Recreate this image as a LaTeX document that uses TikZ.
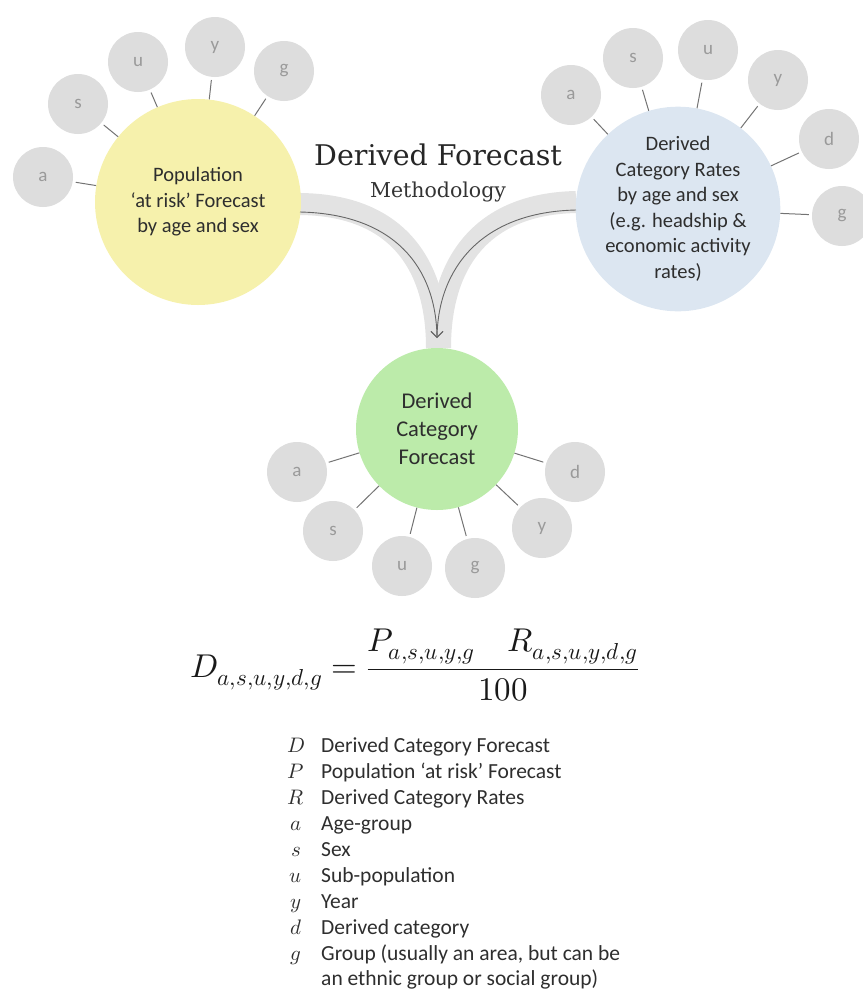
\documentclass[tikz,border=0pt]{standalone}
\usepackage{fontspec}
\setmainfont{Carlito}
\newfontfamily\titlefont{DejaVu Serif}
\usepackage{unicode-math}
\setmathfont{Latin Modern Math}
\usetikzlibrary{arrows.meta}
\definecolor{yel}{HTML}{F6F1AC}
\definecolor{blu}{HTML}{DCE6F1}
\definecolor{grn}{HTML}{BCEBAA}
\definecolor{sat}{HTML}{DDDDDD}
\definecolor{sattext}{HTML}{9A9A9A}
\definecolor{band}{HTML}{E3E3E3}
\definecolor{txt}{HTML}{2E2E2E}
\tikzset{
  hub/.style={circle,draw=none,align=center,text=txt,inner sep=0pt,font=\fontsize{20.5}{25.5}\selectfont},
  satnode/.style={circle,fill=sat,draw=none,minimum size=60pt,inner sep=0pt,text=sattext,font=\fontsize{19}{20}\selectfont},
  link/.style={draw=gray!90!black,line width=1pt,shorten <=3pt},
  legsym/.style={anchor=base,font=\fontsize{21}{22}\selectfont,text=txt},
  legtext/.style={anchor=base west,inner xsep=0pt,font=\fontsize{21.5}{22}\selectfont,text=txt},
}
\begin{document}
\begin{tikzpicture}[x=1pt,y=-1pt]
\useasboundingbox (0,0) rectangle (863,989);
% bands and arrows
\coordinate (Ls) at (300,212);
\coordinate (Rs) at (576,210);
\coordinate (Tip) at (437,338);
\draw[band,line width=22pt] (300,204) .. controls (395,205) and (437,262) .. (437,348);
\draw[band,line width=22pt] (576,202) .. controls (482,204) and (440,262) .. (440,348);
% hubs
\node[hub,fill=yel,minimum size=206pt] (Y) at (198,202) {Population\\‘at risk’ Forecast\\by age and sex};
\node[hub,fill=blu,minimum size=204pt] (B) at (678,209) {Derived\\Category Rates\\by age and sex\\(e.g. headship \&\\economic activity\\rates)};
\node[hub,fill=grn,minimum size=162pt,font=\fontsize{22.5}{28}\selectfont] (G) at (437,429) {Derived\\Category\\Forecast};
\draw[gray!80!black,line width=0.9pt,-{Straight Barb[length=6pt,width=12pt]}] (Ls) .. controls (395,214) and (436,268) .. (Tip);
\draw[gray!80!black,line width=0.9pt,-{Straight Barb[length=6pt,width=12pt]}] (Rs) .. controls (482,212) and (438,268) .. (Tip);
% title
\node[font=\titlefont\fontsize{28.5}{32}\selectfont,text=black!85] (T1) at (438,155) {Derived Forecast};
\node[font=\titlefont\fontsize{20.5}{22}\selectfont,text=black!80] (T2) at (438,192) {Methodology};
% yellow satellites
\node[satnode] (Ya) at (43,177) {a};
\node[satnode] (Ys) at (78,104) {s};
\node[satnode] (Yu) at (138,62) {u};
\node[satnode] (Yy) at (215,47) {y};
\node[satnode] (Yg) at (284,71) {g};
\foreach \s in {Ya,Ys,Yu,Yy,Yg} \draw[link] (\s) -- (Y);
% blue satellites
\node[satnode] (Ba) at (571,95) {a};
\node[satnode] (Bs) at (633,58) {s};
\node[satnode] (Bu) at (708,50) {u};
\node[satnode] (By) at (778,80) {y};
\node[satnode] (Bd) at (829,139) {d};
\node[satnode] (Bg) at (842,216) {g};
\foreach \s in {Ba,Bs,Bu,By,Bd,Bg} \draw[link] (\s) -- (B);
% green satellites
\node[satnode] (Ga) at (297,472) {a};
\node[satnode] (Gs) at (333,531) {s};
\node[satnode] (Gu) at (402,566) {u};
\node[satnode] (Gg) at (475,568) {g};
\node[satnode] (Gy) at (542,528) {y};
\node[satnode] (Gd) at (575,472) {d};
\foreach \s in {Ga,Gs,Gu,Gg,Gy,Gd} \draw[link] (\s) -- (G);
% formula
\node[anchor=west,inner sep=0pt,text=black!90,font=\fontsize{33}{36}\selectfont] (F) at (190,665)
  {$D_{a,s,u,y,d,g} = \dfrac{P_{a,s,u,y,g}\quad R_{a,s,u,y,d,g}}{100}$};
% legend
\foreach \sym/\txt/\yy in {D/Derived Category Forecast/752, P/Population ‘at risk’ Forecast/778, R/Derived Category Rates/804, a/Age-group/830, s/Sex/856, u/Sub-population/882, y/Year/908, d/Derived category/934, g/Group (usually an area{,} but can be/960}{
  \node[legsym] (S\sym) at (296,\yy) {$\sym$};
  \node[legtext] (L\sym) at (321,\yy) {\txt};
}
\node[legtext] (Lg2) at (321,985) {an ethnic group or social group)};
\end{tikzpicture}
\end{document}
